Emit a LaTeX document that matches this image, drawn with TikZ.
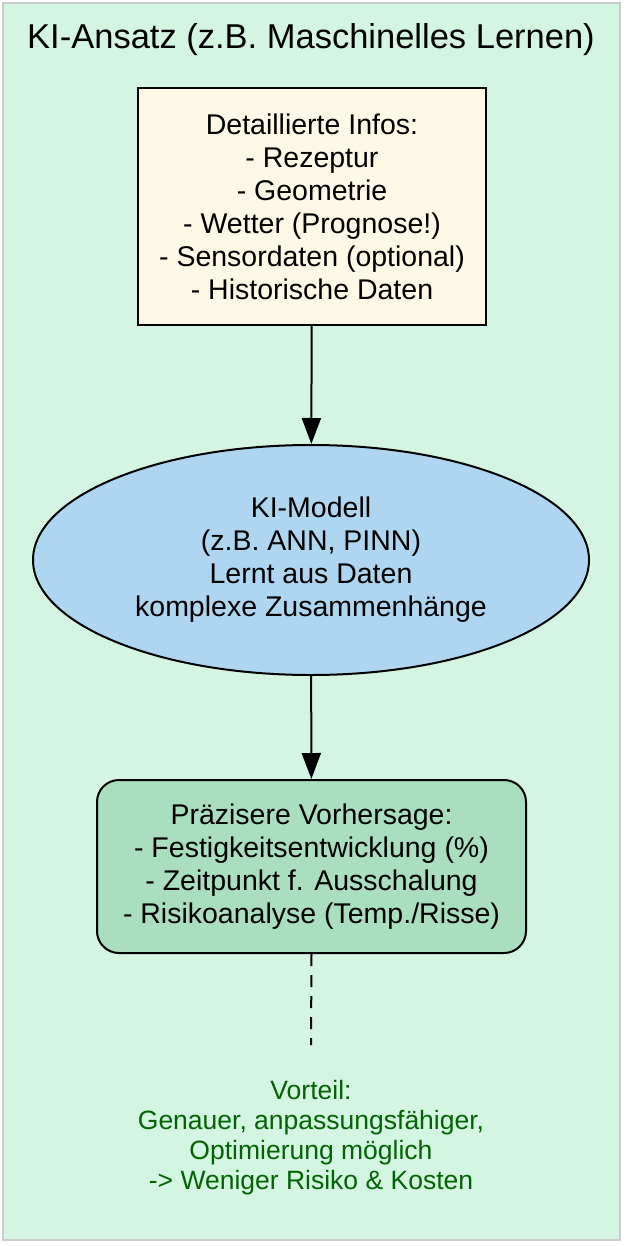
\documentclass[tikz,border=0pt]{standalone}
\usepackage{fontspec}
\setmainfont{Liberation Sans}
\usetikzlibrary{shapes.geometric,arrows.meta}
\definecolor{clfill}{HTML}{D5F5E3}
\definecolor{infofill}{HTML}{FEF9E7}
\definecolor{modelfill}{HTML}{AED6F1}
\definecolor{predfill}{HTML}{A9DFBF}
\definecolor{advgreen}{HTML}{006400}
\tikzset{
  txt/.style={align=center,font=\fontsize{28.5}{33}\selectfont},
  conn/.style={line width=2pt,-{Triangle[length=26pt,width=19pt]}},
}
\begin{document}
\begin{tikzpicture}[x=1pt,y=-1pt]
\useasboundingbox (0,0) rectangle (624,1246);
\draw[fill=clfill,draw=black!20,line width=1.5pt] (3,3) rectangle (620,1240);
\node[font=\fontsize{34.5}{40}\selectfont] (title) at (311,40) {KI-Ansatz (z.B. Maschinelles Lernen)};
\node[txt,draw,fill=infofill,line width=2pt,minimum width=348pt,minimum height=237pt] (info) at (312,206.5)
 {Detaillierte Infos:\\- Rezeptur\\- Geometrie\\- Wetter (Prognose!)\\- Sensordaten (optional)\\- Historische Daten};
\node[txt,draw,ellipse,fill=modelfill,line width=2pt,minimum width=556pt,minimum height=230pt,inner sep=0pt] (model) at (311,560)
 {KI-Modell\\(z.B. ANN, PINN)\\Lernt aus Daten\\komplexe Zusammenhänge};
\node[txt,draw,fill=predfill,rounded corners=22pt,line width=2pt,minimum width=429pt,minimum height=173pt,inner sep=0pt] (pred) at (311.5,866.5)
 {Präzisere Vorhersage:\\- Festigkeitsentwicklung (\%)\\- Zeitpunkt f. Ausschalung\\- Risikoanalyse (Temp./Risse)};
\node[align=center,text=advgreen,font=\fontsize{26.5}{30}\selectfont] (adv) at (311,1138)
 {Vorteil:\\Genauer, anpassungsfähiger,\\Optimierung möglich\\-> Weniger Risiko \& Kosten};
\coordinate (advtop) at (311,1045);
\draw[conn] (info) -- (model);
\draw[conn] (model) -- (pred);
\draw[line width=2pt,dash pattern=on 12pt off 9pt] (pred.south) -- (advtop);
\end{tikzpicture}
\end{document}
